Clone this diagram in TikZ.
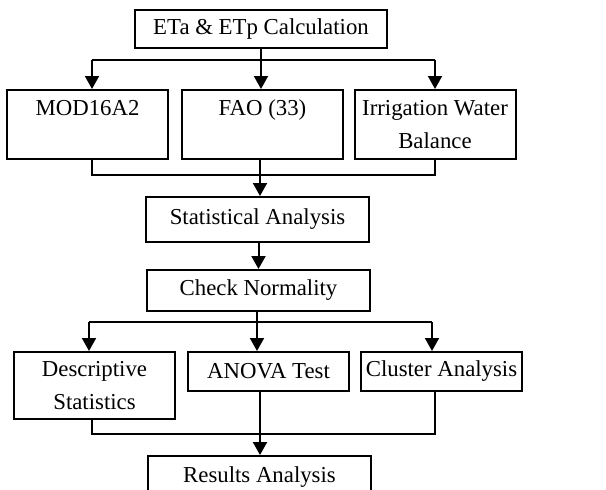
\documentclass[tikz,border=0pt]{standalone}
\usepackage{fontspec}
\setmainfont{Liberation Serif}
\usetikzlibrary{arrows.meta}
\tikzstyle{process} = [
    rectangle,
    draw=black,
    line width=1pt,
    inner sep=0pt,
    align=center,
    font=\fontsize{11.4}{16.5}\selectfont
]
\tikzstyle{widebox} = [process, minimum width=111.5pt]
\tikzstyle{smallbox} = [process, minimum width=80.5pt]
\tikzstyle{line} = [line width=1pt]
\tikzstyle{arrow} = [line width=1pt,-{Triangle[width=7pt,length=6.5pt]}]

\begin{document}
\begin{tikzpicture}[x=0.5pt, y=-0.5pt]

\useasboundingbox (0,0) rectangle (606,489);

\node (calc) [process, minimum width=126pt, minimum height=19pt] at (261,29)
{ETa \& ETp Calculation};

\node (mod) [smallbox, minimum height=34.5pt] at (87.5,124.5)
{MOD16A2\\\mbox{}};

\node (fao) [smallbox, minimum height=34.5pt] at (262.5,124.5)
{FAO (33)\\\mbox{}};

\node (irr) [smallbox, minimum height=34.5pt] at (435,124.5)
{Irrigation Water\\Balance};

\node (stat) [widebox, minimum height=22.5pt] at (257.5,219.5)
{Statistical Analysis};

\node (check) [widebox, minimum height=20.5pt] at (258.5,290.5)
{Check Normality};

\node (desc) [smallbox, minimum height=33.5pt] at (94.5,385.5)
{Descriptive\\Statistics};

\node (anova) [smallbox, minimum height=19.5pt] at (268.5,371.5)
{ANOVA Test};

\node (clus) [smallbox, minimum height=19.5pt] at (441.5,371.5)
{Cluster Analysis};

\node (res) [widebox, minimum height=21pt] at (259.5,477)
{Results Analysis};

% split and merge points
\coordinate (t1) at (261,60);
\coordinate (t1l) at (92,60);
\coordinate (t1r) at (435,60);
\coordinate (m1) at (260,175);
\coordinate (m1l) at (92,175);
\coordinate (m1r) at (435,175);
\coordinate (t2) at (257,322);
\coordinate (t2l) at (89,322);
\coordinate (t2r) at (432,322);
\coordinate (m2) at (260,434);
\coordinate (m2l) at (92,434);
\coordinate (m2r) at (435,434);

\draw [line] (calc) -- (t1);
\draw [line] (t1l) -- (t1r);
\draw [arrow] (t1l) -- (t1l |- mod.north);
\draw [arrow] (t1) -- (t1 |- fao.north);
\draw [arrow] (t1r) -- (t1r |- irr.north);

\draw [line] (mod.south -| m1l) -- (m1l) -- (m1r) -- (irr.south -| m1r);
\draw [line] (fao.south -| m1) -- (m1);
\draw [arrow] (m1) -- (m1 |- stat.north);

\draw [arrow] (stat.south -| check) -- (check);

\draw [line] (check.south -| t2) -- (t2);
\draw [line] (t2l) -- (t2r);
\draw [arrow] (t2l) -- (t2l |- desc.north);
\draw [arrow] (t2) -- (t2 |- anova.north);
\draw [arrow] (t2r) -- (t2r |- clus.north);

\draw [line] (desc.south -| m2l) -- (m2l) -- (m2r) -- (clus.south -| m2r);
\draw [arrow] (anova.south -| m2) -- (m2 |- res.north);

\end{tikzpicture}
\end{document}
